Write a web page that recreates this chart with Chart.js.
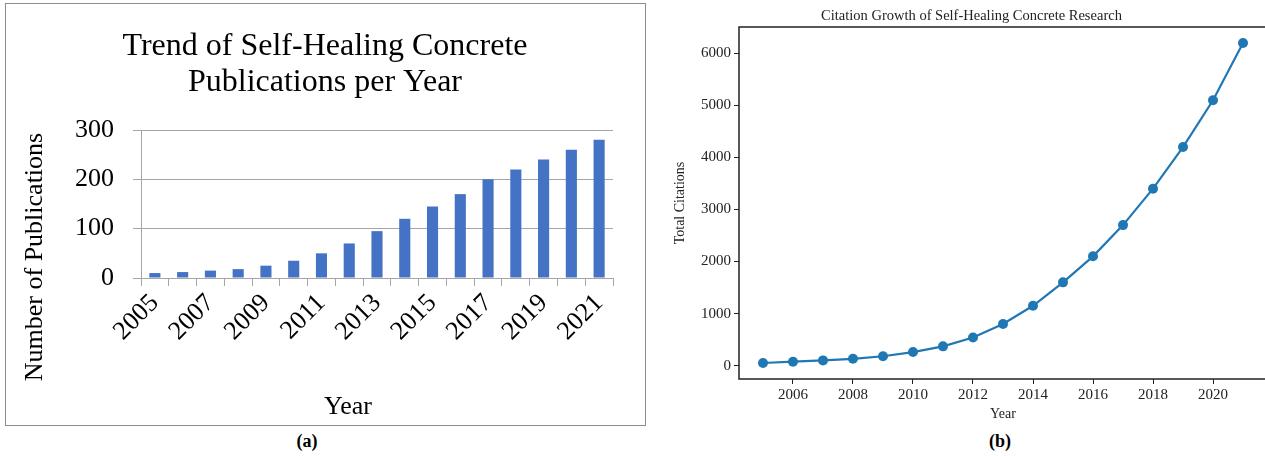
<!DOCTYPE html>
<html>
<head>
<meta charset="utf-8">
<script src="https://cdn.jsdelivr.net/npm/chart.js@4.4.1/dist/chart.umd.min.js"></script>
<style>
  html, body { margin: 0; padding: 0; background: #fff; }
  body { width: 1265px; height: 456px; overflow: hidden; position: relative; font-family: "Liberation Serif", serif; }
  #boxA { position: absolute; left: 5px; top: 3px; width: 639px; height: 421px; border: 1px solid #8c8c8c; }
  #chartA { position: absolute; left: 6px; top: 4px; }
  #chartB { position: absolute; left: 650px; top: 0; }
  .cap { position: absolute; top: 430px; width: 60px; text-align: center; font-weight: bold; font-size: 18px; line-height: 22px; }
</style>
</head>
<body>
<div id="boxA"></div>
<canvas id="chartA" width="638" height="420"></canvas>
<canvas id="chartB" width="650" height="426"></canvas>
<div class="cap" style="left:277px">(a)</div>
<div class="cap" style="left:970px">(b)</div>
<script>
// (a) publications per year
const pubYears = ['2005', '2006', '2007', '2008', '2009', '2010', '2011', '2012', '2013',
                  '2014', '2015', '2016', '2017', '2018', '2019', '2020', '2021'];
const publications = [10, 12, 15, 18, 25, 35, 50, 70, 95, 120, 145, 170, 200, 220, 240, 260, 280];
const pubTicks = [0, 100, 200, 300];
const pubXTitle = 'Year';
const pubYTitle = 'Number of Publications';

// (b) total citations
const citeYears = [2005, 2006, 2007, 2008, 2009, 2010, 2011, 2012, 2013,
                   2014, 2015, 2016, 2017, 2018, 2019, 2020, 2021];
const citations = [50, 75, 100, 130, 180, 260, 370, 540, 800, 1150, 1600, 2100, 2700, 3400, 4200, 5100, 6200];
const citeXTicks = [2006, 2008, 2010, 2012, 2014, 2016, 2018, 2020];
const citeYTicks = [0, 1000, 2000, 3000, 4000, 5000, 6000];

const SERIF = '"Liberation Serif", "Times New Roman", serif';
const GRID_A = '#a6a6a6';
const INK_B = '#222222';

// Excel puts its axis titles off-centre, so draw them ourselves
const excelAxisTitles = {
    id: 'excelAxisTitles',
    afterDraw(chart) {
        const { ctx, chartArea: a } = chart;
        ctx.save();
        ctx.fillStyle = '#000';
        ctx.font = '26px ' + SERIF;
        ctx.textAlign = 'center';
        ctx.textBaseline = 'middle';
        ctx.fillText(pubXTitle, a.left + 207, a.bottom + 129);
        ctx.translate(a.left - 106, a.bottom - 21);
        ctx.rotate(-Math.PI / 2);
        ctx.fillText(pubYTitle, 0, 0);
        ctx.restore();
    }
};

new Chart(document.getElementById('chartA'), {
    type: 'bar',
    data: {
        labels: pubYears,
        datasets: [{
            data: publications,
            backgroundColor: '#4472c4',
            barPercentage: 0.4,
            categoryPercentage: 1.0
        }]
    },
    options: {
        responsive: false,
        animation: false,
        layout: { padding: { left: 31, right: 31, top: 0, bottom: 5 } },
        plugins: {
            legend: { display: false },
            tooltip: { enabled: false },
            title: {
                display: true,
                text: ['Trend of Self-Healing Concrete', 'Publications per Year'],
                color: '#000',
                font: { family: SERIF, size: 32, weight: 'normal', lineHeight: 1.125 },
                padding: { top: 25, bottom: 29 }
            }
        },
        scales: {
            x: {
                grid: { drawOnChartArea: false, color: GRID_A, tickLength: 8, offset: true },
                border: { color: GRID_A },
                ticks: {
                    autoSkip: false, minRotation: 45, maxRotation: 45, padding: 2,
                    color: '#000', font: { family: SERIF, size: 26 },
                    // only every other year is labelled
                    callback: function (v, i) { return i % 2 === 0 ? this.getLabelForValue(v) : ''; }
                },
                afterFit: s => { s.height = 141; }
            },
            y: {
                min: 0, max: 300,
                afterBuildTicks: s => { s.ticks = pubTicks.map(v => ({ value: v })); },
                grid: { color: GRID_A, tickLength: 8 },
                border: { color: GRID_A },
                ticks: { padding: 19, color: '#000', font: { family: SERIF, size: 26 } },
                afterFit: s => { s.width = 104; }
            }
        }
    },
    plugins: [excelAxisTitles]
});

// matplotlib-style box round the plot area
const frameB = {
    id: 'frameB',
    afterDatasetsDraw(chart) {
        const { ctx, chartArea: a } = chart;
        ctx.save();
        ctx.strokeStyle = INK_B;
        ctx.lineWidth = 1.5;
        ctx.strokeRect(a.left, a.top, a.right - a.left, a.bottom - a.top);
        ctx.restore();
    }
};

new Chart(document.getElementById('chartB'), {
    type: 'line',
    data: {
        datasets: [{
            data: citeYears.map((yr, i) => ({ x: yr, y: citations[i] })),
            borderColor: '#1f77b4',
            backgroundColor: '#1f77b4',
            borderWidth: 2.2,
            pointRadius: 5,
            pointBorderWidth: 0,
            tension: 0,
            clip: false
        }]
    },
    options: {
        responsive: false,
        animation: false,
        layout: { padding: { left: 26, right: 33, top: 0, bottom: 2 } },
        plugins: {
            legend: { display: false },
            tooltip: { enabled: false },
            title: {
                display: true,
                text: 'Citation Growth of Self-Healing Concrete Research',
                color: INK_B,
                font: { family: SERIF, size: 14.5, weight: 'normal', lineHeight: 1.2 },
                padding: { top: 7, bottom: 2.6 }
            }
        },
        scales: {
            x: {
                type: 'linear',
                min: 2004.2, max: 2021.8,
                afterBuildTicks: s => { s.ticks = citeXTicks.map(v => ({ value: v })); },
                grid: { drawOnChartArea: false, color: INK_B, tickLength: 5 },
                border: { display: false },
                ticks: { padding: 2, maxRotation: 0, color: INK_B, font: { family: SERIF, size: 15 }, callback: v => String(v) },
                title: { display: true, text: 'Year', color: INK_B, font: { family: SERIF, size: 14 }, padding: { top: 0, bottom: 1 } },
                afterFit: s => { s.height = 45; }
            },
            y: {
                min: -257.5, max: 6507.5,
                afterBuildTicks: s => { s.ticks = citeYTicks.map(v => ({ value: v })); },
                grid: { drawOnChartArea: false, color: INK_B, tickLength: 5 },
                border: { display: false },
                ticks: { padding: 3, color: INK_B, font: { family: SERIF, size: 15 }, callback: v => String(v) },
                title: { display: true, text: 'Total Citations', color: INK_B, font: { family: SERIF, size: 14 }, padding: { top: -4, bottom: 0 } },
                afterFit: s => { s.width = 63; }
            }
        }
    },
    plugins: [frameB]
});
</script>
</body>
</html>
